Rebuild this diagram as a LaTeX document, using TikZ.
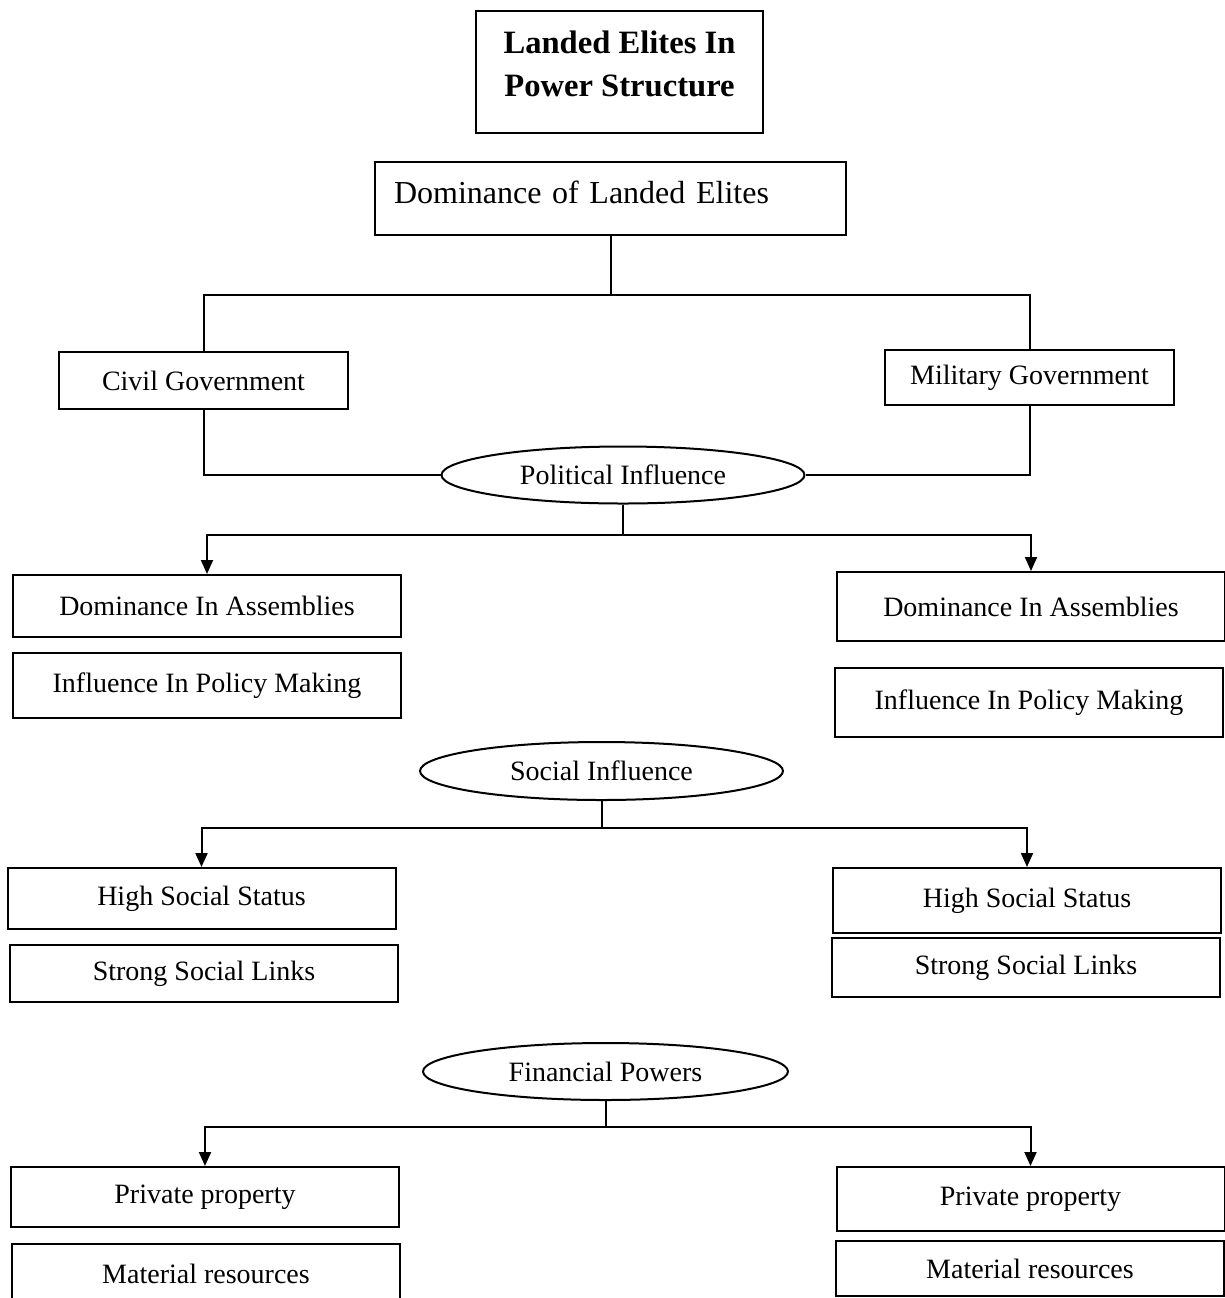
\documentclass[tikz,border=0pt]{standalone}
\usepackage{fontspec}
\setmainfont{Liberation Serif}
\usetikzlibrary{shapes.geometric,arrows.meta}

\begin{document}
\begin{tikzpicture}[x=0.5pt, y=-0.5pt, line width=1pt,
  box/.style={rectangle, draw, minimum width=194pt, minimum height=31pt, inner sep=0pt, font=\fontsize{14}{16}\selectfont},
  oval/.style={ellipse, draw, minimum width=181.5pt, minimum height=28.5pt, inner sep=0pt, font=\fontsize{14}{16}\selectfont},
  arr/.style={-{Triangle[width=6pt,length=7pt]}}
]
\useasboundingbox (0,0) rectangle (1225,1298);

% top
\node[draw, minimum width=143.5pt, minimum height=61pt, align=center, text depth=8pt,
  font=\fontsize{16.3}{21.5}\selectfont\bfseries] (title) at (619.5,72) {Landed Elites In\\Power Structure};
\node[draw, minimum height=36.5pt, text width=216.5pt, inner xsep=9.5pt, align=left, text depth=6pt,
  font=\fontsize{16}{19}\selectfont] (dom) at (610.5,198.5) {Dominance of Landed Elites};

% governments
\node[box, minimum width=144.5pt, minimum height=28.5pt] (civ) at (203.5,380.5) {Civil Government};
\node[box, minimum width=144.5pt, minimum height=27.5pt] (mil) at (1029.5,377.5) {Military Government};

% political
\node[oval] (pol) at (623,475) {Political Influence};
\node[box] (da1) at (207,606) {Dominance In Assemblies};
\node[box, minimum height=32.5pt] (ip1) at (207,685.5) {Influence In Policy Making};
\node[box, minimum height=34.5pt] (da2) at (1031,606.5) {Dominance In Assemblies};
\node[box, minimum height=34.5pt] (ip2) at (1029,702.5) {Influence In Policy Making};

% social
\node[oval, minimum height=29pt] (soc) at (601.5,771) {Social Influence};
\node[box, minimum height=30.5pt] (hs1) at (201.5,898.5) {High Social Status};
\node[box, minimum height=28.5pt] (sl1) at (204,973.5) {Strong Social Links};
\node[box, minimum height=32.5pt] (hs2) at (1027,900.5) {High Social Status};
\node[box, minimum height=29.5pt] (sl2) at (1026,967.5) {Strong Social Links};

% financial
\node[oval, minimum width=182.5pt] (fin) at (605.5,1071.5) {Financial Powers};
\node[box, minimum height=30pt] (pp1) at (205,1197) {Private property};
\node[box, minimum height=30pt] (mr1) at (206,1274) {Material resources};
\node[box, minimum height=32pt] (pp2) at (1030.5,1199) {Private property};
\node[box, minimum height=27.5pt] (mr2) at (1030,1268.5) {Material resources};

% edges
\draw (dom.south) -- ++(0,59) coordinate (j1);
\draw (civ.north) |- (j1) -| (mil.north);
\draw (civ.south) |- (pol.west);
\draw (mil.south) |- (pol.east);

\draw (pol.south) -- ++(0,30) coordinate (j2);
\draw[arr] (j2) -| (da1.north);
\draw[arr] (j2) -| (da2.north);

\draw (soc.south) -- ++(0,27) coordinate (j3);
\draw[arr] (j3) -| (hs1.north);
\draw[arr] (j3) -| (hs2.north);

\draw (fin.south) -- ++(0,26) coordinate (j4);
\draw[arr] (j4) -| (pp1.north);
\draw[arr] (j4) -| (pp2.north);

\end{tikzpicture}
\end{document}
